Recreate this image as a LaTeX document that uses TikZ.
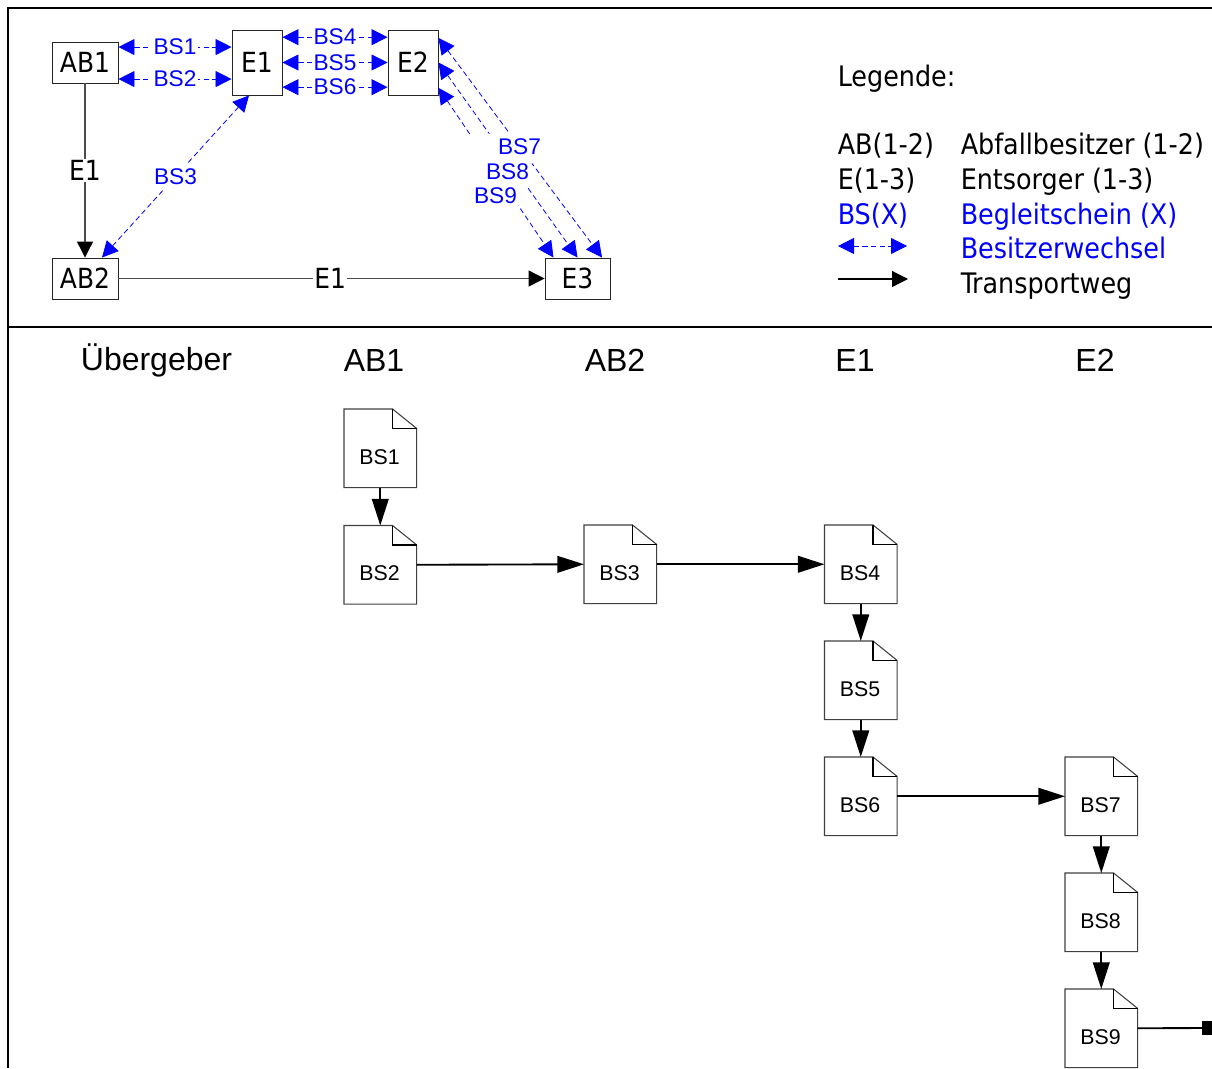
\documentclass[tikz,border=0pt]{standalone}
\usepackage{fontspec}
\setmainfont{Liberation Sans}
\newfontfamily\boxfont{DejaVu Sans Condensed}
\usetikzlibrary{arrows.meta}
\definecolor{bsblue}{RGB}{0,0,255}
\tikzset{
  x=0.75pt,y=-0.75pt,
  frameline/.style={line width=1.6pt,black},
  place/.style={draw=black!85,line width=0.7pt,fill=white,inner sep=0pt,font=\boxfont\fontsize{20.8}{24}\selectfont},
  bsline/.style={bsblue,line width=0.6pt,dash pattern=on 4pt off 2.5pt,{Triangle[length=12pt,width=12pt]}-{Triangle[length=12pt,width=12pt]}},
  bslabel/.style={fill=white,text=bsblue,inner xsep=1pt,inner ysep=3pt,font=\fontsize{17}{20}\selectfont},
  bsplain/.style={text=bsblue,inner sep=0pt,font=\fontsize{17}{20}\selectfont},
  route/.style={black!70,line width=0.9pt,-{Triangle[length=12pt,width=12pt,color=black]}},
  routelabel/.style={fill=white,text=black,inner sep=1pt,font=\boxfont\fontsize{20.8}{24}\selectfont},
  legendtext/.style={anchor=base west,inner sep=0pt,font=\boxfont\fontsize{21.2}{24}\selectfont},
  header/.style={inner sep=0pt,font=\fontsize{24}{28}\selectfont},
  docbody/.style={minimum width=54pt,minimum height=58.5pt,inner sep=0pt},
  doclabel/.style={inner sep=0pt,font=\fontsize{16}{19}\selectfont},
  flow/.style={black,line width=1.4pt,-{Triangle[length=20pt,width=12.5pt]}},
}
% \docshape{name}{x left}{y top}{text}
\newcommand{\docshape}[4]{%
  \node[docbody,anchor=north west] (#1) at (#2,#3) {};
  \draw[black!75,line width=0.8pt,fill=white]
    (#1.north west) -- ([xshift=-18pt]#1.north east) -- ([yshift=-14.5pt]#1.north east)
    -- (#1.south east) -- (#1.south west) -- cycle;
  \draw[black,line width=1.1pt] ([xshift=-18pt]#1.north east) -- ([xshift=-18pt,yshift=-14.5pt]#1.north east) -- ([yshift=-14.5pt]#1.north east);
  \node[doclabel] (#1t) at ([xshift=-0.5pt,yshift=-6.4pt]#1.center) {#4};
}
\begin{document}
\begin{tikzpicture}
\useasboundingbox (0,0) rectangle (1212,1068);
% frame
\coordinate (ftl) at (8,8);
\coordinate (ftr) at (1212,8);
\coordinate (fbl) at (8,1068);
\coordinate (ml) at (8,327);
\coordinate (mr) at (1212,327);
\draw[frameline] (ftr) -- (ftl) -- (fbl);
\draw[frameline,line width=2.1pt] (ml) -- (mr);
% top places
\node[place,minimum width=49.5pt,minimum height=30.75pt] (AB1) at (85,62.5) {AB1};
\node[place,minimum width=37.5pt,minimum height=48.75pt] (E1) at (257,62.5) {E1};
\node[place,minimum width=37.5pt,minimum height=48.75pt] (E2) at (413,62.5) {E2};
\node[place,minimum width=49.5pt,minimum height=30.75pt] (AB2) at (85,278.5) {AB2};
\node[place,minimum width=48.75pt,minimum height=30.75pt] (E3) at (577.5,278.5) {E3};
% transport
\draw[route] (AB1.south) -- node[routelabel] (e1a) {E1} (AB2.north);
\draw[route] (AB2.east) -- node[routelabel,pos=0.497] (e1b) {E1} (E3.west);
% owner changes
\draw[bsline] ([yshift=11.6pt]AB1.east) -- node[bslabel] (ls1) {BS1} ([yshift=11.6pt]E1.west);
\draw[bsline] ([yshift=-12.4pt]AB1.east) -- node[bslabel] (ls2) {BS2} ([yshift=-12.4pt]E1.west);
\draw[bsline] ([xshift=-6pt]E1.south) -- node[bslabel] (ls3) {BS3} ([xshift=12.75pt]AB2.north);
\draw[bsline] ([yshift=19pt]E1.east) -- node[bslabel] (ls4) {BS4} ([yshift=19pt]E2.west);
\draw[bsline] (E1.east) -- node[bslabel] (ls5) {BS5} (E2.west);
\draw[bsline] ([yshift=-18.5pt]E1.east) -- node[bslabel] (ls6) {BS6} ([yshift=-18.5pt]E2.west);
\draw[bsline] ([yshift=18.4pt]E2.east) -- ([xshift=18.4pt]E3.north);
\draw[bsline] (E2.east) -- (E3.north);
\draw[bsline] ([yshift=-19pt]E2.east) -- ([xshift=-18pt]E3.north);
\fill[white] (468,135) -- (513,132) -- (535,161) -- (527,167) -- (523,170) -- (531,185) -- (524,190) -- (521,204) -- (513,209) -- (468,209) -- cycle;
\node[bsplain] (ls7) at (519.5,147) {BS7};
\node[bsplain] (ls8) at (507.5,172) {BS8};
\node[bsplain] (ls9) at (495.5,196) {BS9};
% legend
\node[legendtext] (lg) at (837.5,86) {Legende:};
\node[legendtext] (lg1a) at (837.5,154.8) {AB(1-2)};
\node[legendtext] (lg1b) at (960.5,154.8) {Abfallbesitzer (1-2)};
\node[legendtext] (lg2a) at (837.5,189.5) {E(1-3)};
\node[legendtext] (lg2b) at (960.5,189.5) {Entsorger (1-3)};
\node[legendtext,text=bsblue] (lg3a) at (837.5,224) {BS(X)};
\node[legendtext,text=bsblue] (lg3b) at (960.5,224) {Begleitschein (X)};
\node[legendtext,text=bsblue] (lg4b) at (960.5,258.8) {Besitzerwechsel};
\node[legendtext] (lg5b) at (960.5,293) {Transportweg};
\coordinate (lga) at (838,246);
\coordinate (lgb) at (907,246);
\coordinate (lgc) at (838,279);
\coordinate (lgd) at (908,279);
\draw[bsline] (lga) -- (lgb);
\draw[route,black] (lgc) -- (lgd);
% headers
\node[header] (h0) at (156.5,360) {Übergeber};
\node[header] (h1) at (374,360) {AB1};
\node[header] (h2) at (615,360) {AB2};
\node[header] (h3) at (855,360) {E1};
\node[header] (h4) at (1095,360) {E2};
% documents
\docshape{BSa}{344}{409}{BS1}
\docshape{BSb}{344}{525.5}{BS2}
\docshape{BSc}{584}{525}{BS3}
\docshape{BSd}{824.5}{525}{BS4}
\docshape{BSe}{824.5}{641}{BS5}
\docshape{BSf}{824.5}{757}{BS6}
\docshape{BSg}{1065}{757}{BS7}
\docshape{BSh}{1065}{873}{BS8}
\docshape{BSi}{1065}{989}{BS9}
\node[fill=black,minimum width=7.5pt,minimum height=11pt,inner sep=0pt] (stop) at (1207,1028) {};
\draw[flow] (BSa.south) -- (BSb.north);
\draw[flow] (BSb.east) -- (BSc.west);
\draw[flow] (BSc.east) -- (BSd.west);
\draw[flow] (BSd.south) -- (BSe.north);
\draw[flow] (BSe.south) -- (BSf.north);
\draw[flow] (BSf.east) -- (BSg.west);
\draw[flow] (BSg.south) -- (BSh.north);
\draw[flow] (BSh.south) -- (BSi.north);
\draw[black,line width=1.4pt] (BSi.east) -- (stop.west);
\end{tikzpicture}
\end{document}
